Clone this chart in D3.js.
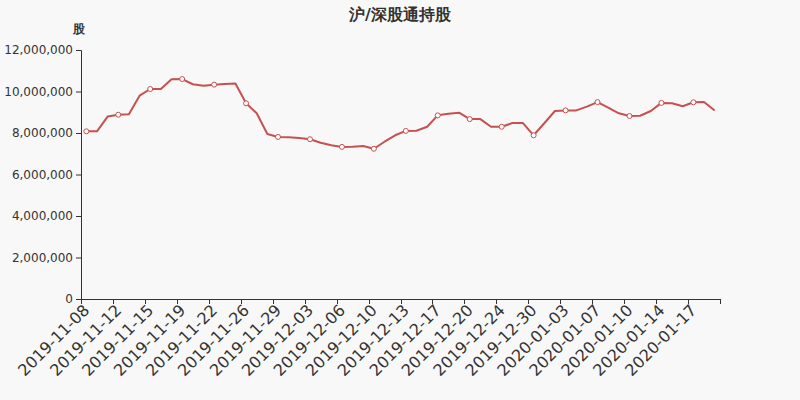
<!DOCTYPE html>
<html><head><meta charset="utf-8">
<script src="https://cdn.jsdelivr.net/npm/d3@7/dist/d3.min.js"></script>
<style>
html,body{margin:0;padding:0;background:#f8f8f8;}
svg{display:block;font-family:"DejaVu Sans",sans-serif;}
</style></head>
<body>
<svg id="chart" width="800" height="400"></svg>
<script>
const title = "沪/深股通持股";
const yAxisName = "股";
const dates = [
"2019-11-08","2019-11-10","2019-11-11","2019-11-12","2019-11-13","2019-11-14","2019-11-15","2019-11-17","2019-11-18","2019-11-19",
"2019-11-20","2019-11-21","2019-11-22","2019-11-24","2019-11-25","2019-11-26","2019-11-27","2019-11-28","2019-11-29","2019-12-01",
"2019-12-02","2019-12-03","2019-12-04","2019-12-05","2019-12-06","2019-12-08","2019-12-09","2019-12-10","2019-12-11","2019-12-12",
"2019-12-13","2019-12-15","2019-12-16","2019-12-17","2019-12-18","2019-12-19","2019-12-20","2019-12-22","2019-12-23","2019-12-24",
"2019-12-27","2019-12-29","2019-12-30","2019-12-31","2020-01-02","2020-01-03","2020-01-05","2020-01-06","2020-01-07","2020-01-08",
"2020-01-09","2020-01-10","2020-01-12","2020-01-13","2020-01-14","2020-01-15","2020-01-16","2020-01-17","2020-01-19","2020-01-20"];
const holdings = [
8080000,8080000,8790000,8880000,8900000,9800000,10120000,10120000,10590000,10600000,
10350000,10280000,10330000,10360000,10390000,9430000,8950000,7950000,7810000,7790000,
7760000,7700000,7530000,7410000,7330000,7340000,7370000,7240000,7580000,7890000,
8100000,8110000,8300000,8850000,8930000,8980000,8670000,8670000,8300000,8300000,
8480000,8480000,7890000,8470000,9060000,9090000,9090000,9270000,9490000,9220000,
8950000,8820000,8830000,9060000,9450000,9430000,9290000,9480000,9490000,9080000];
const yTicks = [0,2000000,4000000,6000000,8000000,10000000,12000000];

const FONT = "DejaVu Sans";
const svg = d3.select("#chart");
const m = {left:81, right:720, top:50, bottom:299};
const axisColor = "#333";
const lineColor = "#c65150";

const x = d3.scaleBand().domain(dates).range([m.left, m.right]);
const y = d3.scaleLinear().domain([0,12000000]).range([m.bottom, m.top]);

svg.append("text").attr("x",400).attr("y",20).attr("text-anchor","middle").attr("font-family",FONT)
  .attr("font-size",16).attr("font-weight","bold").attr("fill","#333").text(title);
svg.append("text").attr("x",79).attr("y",33).attr("text-anchor","middle").attr("font-family",FONT)
  .attr("font-size",12).attr("font-weight","bold").attr("fill","#333").text(yAxisName);

// y axis
const yAxis = d3.axisLeft(y).tickValues(yTicks).tickSize(5).tickPadding(3).tickFormat(d3.format(","));
const gy = svg.append("g").attr("transform",`translate(${m.left},0)`).call(yAxis).attr("font-family",FONT);
gy.selectAll("path,line").attr("stroke",axisColor);
gy.selectAll("text").attr("fill",axisColor).attr("font-size",12).attr("font-family",FONT);

// x axis
const xAxis = d3.axisBottom(x).tickSize(0).tickFormat("");
const gx = svg.append("g").attr("transform",`translate(0,${m.bottom})`).call(xAxis).attr("font-family",FONT);
gx.select("path").attr("stroke",axisColor).attr("d",`M${m.left},0.5H${m.right}`);
gx.selectAll(".tick").remove();
const labelIdx = d3.range(0, dates.length, 3);
const tickPos = labelIdx.map(i => x(dates[i])).concat([m.right]);
gx.selectAll("line.tk").data(tickPos).join("line").attr("class","tk")
  .attr("x1",d=>Math.round(d)+0.5).attr("x2",d=>Math.round(d)+0.5).attr("y1",0).attr("y2",5).attr("stroke",axisColor);
gx.selectAll("text.lbl").data(labelIdx).join("text").attr("class","lbl")
  .attr("transform",i=>`translate(${x(dates[i])+x.bandwidth()/2+1},9) rotate(-45)`)
  .attr("text-anchor","end").attr("dominant-baseline","middle").attr("font-family",FONT)
  .attr("font-size",16).attr("fill",axisColor).text(i=>dates[i]);

// line
const cx = (d,i) => x(dates[i]) + x.bandwidth()/2;
const line = d3.line().x((d,i)=>cx(d,i)).y(d=>y(d));
svg.append("path").datum(holdings).attr("d",line).attr("fill","none")
  .attr("stroke",lineColor).attr("stroke-width",2).attr("stroke-linejoin","round");
svg.selectAll("circle.pt").data(holdings.map((v,i)=>({v,i})).filter(d=>d.i%3===0)).join("circle")
  .attr("class","pt").attr("cx",d=>cx(d.v,d.i)).attr("cy",d=>y(d.v)).attr("r",2.5)
  .attr("fill","#fff").attr("stroke",lineColor).attr("stroke-width",1);
</script>
</body></html>
